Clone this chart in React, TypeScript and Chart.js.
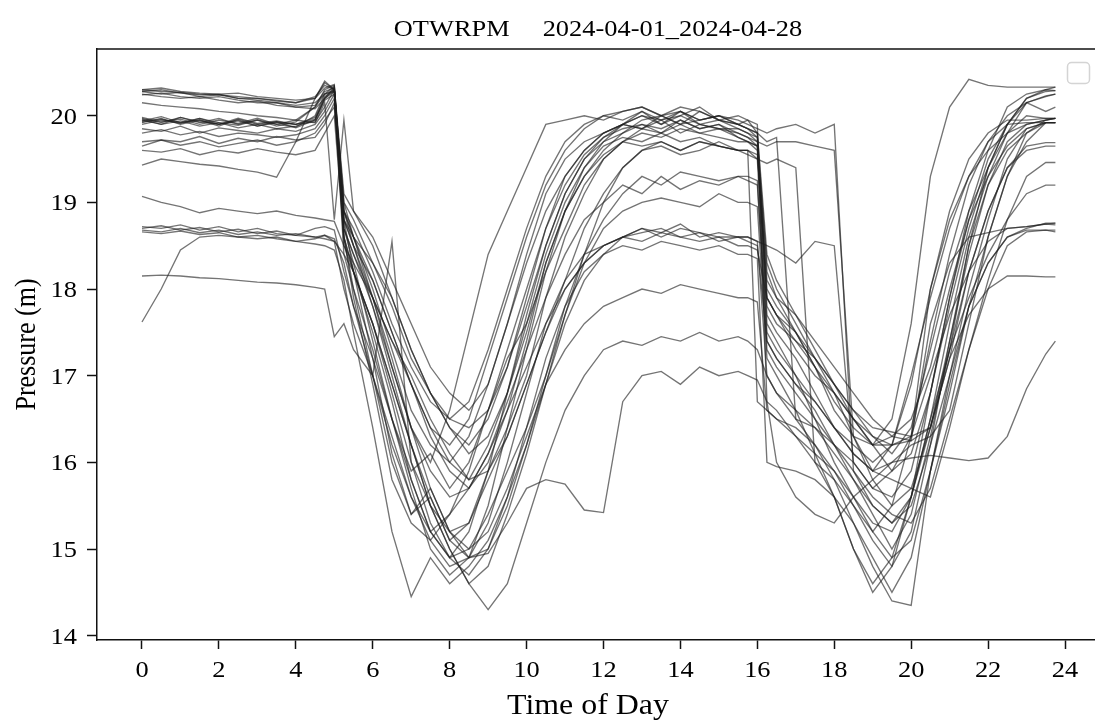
import React, { useEffect, useRef } from "react";
import { Chart, registerables } from "chart.js";
Chart.register(...registerables);

const chartTitle = "OTWRPM     2024-04-01_2024-04-28";
const xLabel = "Time of Day";
const yLabel = "Pressure (m)";
const xTicks = [0, 2, 4, 6, 8, 10, 12, 14, 16, 18, 20, 22, 24];
const yTicks = [14, 15, 16, 17, 18, 19, 20];

const times = [
  0, 0.5, 1, 1.5, 2, 2.5, 3, 3.5, 4, 4.5,
  4.75, 5, 5.25,
  5.5, 6, 6.5, 7, 7.5, 8, 8.5, 9, 9.5, 10, 10.5, 11, 11.5, 12, 12.5, 13, 13.5, 14, 14.5, 15, 15.5,
  15.75, 16, 16.25,
  16.5, 17, 17.5, 18, 18.5, 19, 19.5, 20, 20.5, 21, 21.5, 22, 22.5, 23, 23.5,
  23.75,
];

const day01 = [20.30,20.28,20.27,20.25,20.24,20.22,20.20,20.18,20.15,20.20,
  20.32,20.36,18.90,
  18.6,18.0,17.3,16.6,16.2,16.0,16.3,16.9,17.6,18.3,18.9,19.3,19.6,19.8,19.9,20.0,19.95,20.05,19.9,19.95,19.85,
  19.8,19.7,18.0,
  17.8,17.5,17.1,16.7,16.4,16.2,16.3,16.25,16.4,17.3,18.5,19.4,19.9,20.2,20.3,
  20.33];
const day02 = [20.28,20.30,20.26,20.24,20.25,20.20,20.18,20.15,20.12,20.15,
  20.25,20.34,18.7,
  18.4,17.9,17.4,17.0,16.5,16.1,15.8,16.2,16.8,17.5,18.3,18.9,19.4,19.7,19.9,20.05,19.9,20.0,20.1,19.95,19.9,
  19.85,19.75,17.9,
  17.7,17.3,17.0,16.8,16.5,16.2,15.9,16.1,16.8,17.9,18.8,19.5,19.9,20.2,20.28,
  20.29];
const day03 = [20.25,20.22,20.20,20.22,20.18,20.15,20.17,20.12,20.10,20.08,
  20.2,20.3,19.0,
  18.8,18.3,17.8,17.2,16.8,16.5,16.4,16.6,17.1,17.8,18.5,19.1,19.5,19.75,19.9,19.85,20.0,19.9,19.95,20.0,19.9,
  19.95,19.8,19.7,
  19.75,16.5,16.4,16.2,16.0,15.7,15.6,15.9,16.8,17.8,18.7,19.4,19.9,20.15,20.23,
  20.25];
const day04 = [20.30,20.32,20.28,20.26,20.25,20.26,20.22,20.20,20.18,20.20,
  20.38,20.30,18.8,
  18.5,18.1,17.5,16.9,16.4,16.2,16.5,17.2,17.9,18.6,19.2,19.6,19.85,20.0,20.05,20.1,20.0,20.05,19.95,20.0,19.9,
  19.85,19.8,18.2,
  17.9,17.5,17.1,16.6,16.3,16.2,16.5,17.6,19.3,20.1,20.42,20.35,20.33,20.33,20.33,
  20.33];
const day05 = [20.24,20.26,20.22,20.20,20.22,20.18,20.15,20.15,20.10,20.12,
  20.28,20.32,18.6,
  17.9,16.9,15.8,15.3,15.1,15.4,15.9,16.6,17.3,18.0,18.7,19.2,19.55,19.75,19.85,19.9,19.8,19.95,19.85,19.9,19.8,
  19.75,19.65,17.6,
  17.4,17.0,16.5,16.0,15.6,15.2,15.5,16.3,17.4,18.4,19.2,19.7,20.0,20.15,20.22,
  20.25];
const day06 = [20.15,20.12,20.10,20.08,20.05,20.03,20.00,19.98,19.95,20.10,
  20.25,20.30,18.9,
  18.7,18.2,17.6,17.1,16.7,16.5,16.7,17.3,18.0,18.7,19.3,19.7,19.9,20.0,19.95,20.05,19.95,20.0,19.9,19.85,19.85,
  19.8,19.75,17.8,
  17.6,17.4,17.2,16.9,16.6,16.3,16.1,16.4,17.3,18.2,18.9,19.4,19.8,20.15,20.05,
  20.1];
const day07 = [19.95,19.90,19.98,19.92,19.97,19.90,19.95,19.88,19.93,20.10,
  20.30,20.35,18.8,
  18.2,17.2,16.1,15.4,15.7,15.2,15.3,15.9,16.4,17.0,17.9,18.6,19.1,19.5,19.7,19.8,19.75,19.85,19.8,19.75,19.7,
  19.7,19.6,17.7,
  17.5,17.2,16.8,16.4,16.1,15.9,16.0,16.2,16.3,16.6,17.6,18.6,19.3,19.8,19.95,
  19.97];
const day08 = [19.92,19.97,19.90,19.95,19.88,19.96,19.90,19.93,19.86,19.95,
  20.20,20.33,19.1,
  18.9,18.5,17.9,17.3,16.8,16.4,16.1,16.3,16.8,17.6,18.4,19.0,19.4,19.65,19.75,19.7,19.8,19.7,19.75,19.65,19.6,
  19.6,19.55,18.1,
  17.9,17.7,17.4,17.1,16.8,16.5,16.3,16.5,17.1,18.0,18.8,19.3,19.65,19.85,19.92,
  19.92];
const day09 = [19.97,19.92,19.98,19.93,19.90,19.95,19.88,19.92,19.90,19.98,
  20.22,20.30,18.7,
  18.4,17.8,17.1,16.4,15.9,15.6,15.7,16.1,16.7,17.3,17.9,18.4,18.8,19.0,19.2,19.1,19.3,19.15,19.25,19.2,19.3,
  19.25,19.2,17.5,
  17.3,17.0,16.7,16.4,16.2,16.0,16.2,16.3,18.0,18.8,19.3,19.6,19.8,19.9,19.95,
  19.97];
const day10 = [19.93,19.96,19.91,19.97,19.92,19.89,19.95,19.90,19.87,20.00,
  20.25,20.28,18.5,
  18.2,17.5,16.7,15.8,15.2,14.9,15.2,15.9,16.8,17.7,18.5,19.1,19.5,19.7,19.8,19.9,19.85,19.95,19.85,19.9,19.75,
  19.7,19.65,18.3,
  18.0,17.6,17.2,16.8,16.3,15.9,16.2,17.0,17.9,18.7,19.3,19.7,19.9,19.92,19.92,
  19.92];
const day11 = [19.98,19.93,19.96,19.90,19.95,19.91,19.97,19.90,19.95,19.92,
  20.15,18.8,19.95,
  18.9,18.6,18.1,17.6,17.1,16.8,16.6,16.9,17.6,18.4,19.1,19.5,19.7,19.8,19.9,20.0,19.9,20.05,19.95,20.0,19.95,
  19.9,19.85,19.8,
  19.85,19.9,19.8,19.9,15.9,15.5,15.3,15.6,16.5,17.6,18.6,19.3,19.8,20.0,19.97,
  19.97];
const day12 = [19.94,19.99,19.92,19.95,19.90,19.97,19.91,19.94,19.90,19.93,
  20.10,20.30,18.6,
  18.0,17.0,16.0,15.4,15.6,15.1,15.3,15.8,16.3,16.9,17.5,18.1,18.7,19.1,19.4,19.6,19.7,19.6,19.7,19.65,19.6,
  19.6,19.5,17.4,
  17.2,16.9,16.6,16.2,15.8,15.4,15.0,15.4,16.3,17.3,18.2,18.9,19.4,19.65,19.69,
  19.69];
const day13 = [19.85,19.82,19.88,19.80,19.86,19.83,19.80,19.85,19.82,19.90,
  20.05,20.25,18.4,
  18.0,17.3,16.5,15.7,15.0,14.7,14.9,15.5,16.4,17.3,18.2,18.9,19.3,19.6,19.8,19.95,20.0,19.9,20.05,19.95,19.9,
  19.85,19.8,18.4,
  18.1,17.7,17.3,16.9,16.5,16.2,16.2,16.9,18.0,18.9,19.5,19.8,19.95,19.95,19.97,
  19.97];
const day14 = [19.80,19.84,19.78,19.82,19.76,19.80,19.78,19.75,19.78,19.85,
  20.00,20.20,18.9,
  18.6,18.1,17.5,16.9,16.3,15.9,15.7,16.0,16.6,17.4,18.3,18.9,19.3,19.55,19.7,19.65,19.7,19.6,19.7,19.65,19.6,
  19.6,16.7,16.6,
  16.5,16.4,16.2,15.9,15.5,15.1,14.8,15.2,16.2,17.4,18.5,19.2,19.6,19.8,19.92,
  19.92];
const day15 = [19.70,19.72,19.66,19.70,19.64,19.68,19.72,19.66,19.70,19.80,
  19.95,20.10,18.8,
  18.5,17.9,17.2,16.4,15.7,15.2,14.9,15.0,15.5,16.2,17.0,17.8,18.4,18.8,19.1,19.3,19.2,19.35,19.3,19.25,19.3,
  19.3,19.25,17.3,
  17.1,16.8,16.5,16.2,15.9,15.6,15.4,15.3,15.7,16.5,17.3,18.1,18.8,19.3,19.46,
  19.46];
const day16 = [19.65,19.72,19.70,19.76,19.68,19.74,19.70,19.76,19.72,19.75,
  19.90,20.15,18.7,
  18.3,17.4,16.5,15.9,16.1,15.7,16.0,16.6,17.2,17.6,18.2,18.7,19.2,19.5,19.7,19.85,19.8,19.9,19.8,19.85,19.75,
  19.7,19.65,17.9,
  17.7,17.5,17.2,16.9,16.6,16.4,16.35,16.3,16.4,17.2,18.2,18.9,19.4,19.6,19.65,
  19.65];
const day17 = [19.60,19.58,19.62,19.55,19.60,19.57,19.62,19.58,19.55,19.60,
  19.80,20.00,18.6,
  18.2,17.6,16.9,16.2,15.5,15.0,14.6,14.8,15.4,16.1,16.9,17.7,18.3,18.7,18.9,19.0,19.05,19.0,18.95,19.1,19.0,
  19.0,18.95,17.2,
  17.0,16.6,16.1,15.6,15.0,14.6,14.9,15.6,16.5,17.3,17.9,18.4,18.8,19.1,19.2,
  19.2];
const day18 = [19.43,19.50,19.47,19.44,19.42,19.38,19.35,19.29,19.70,20.20,
  20.40,20.30,18.8,
  18.6,18.3,17.9,17.3,16.8,16.4,16.2,16.5,17.1,17.9,18.7,19.3,19.6,19.8,19.9,19.85,19.95,19.8,19.9,19.85,19.8,
  19.75,19.7,19.65,
  19.7,19.7,19.65,19.6,16.3,15.8,15.5,15.7,16.4,17.4,18.4,19.2,19.7,19.9,19.95,
  19.97];
const day19 = [19.07,19.00,18.95,18.88,18.93,18.90,18.87,18.90,18.85,18.82,
  18.80,18.78,18.5,
  18.3,17.9,17.4,16.9,16.4,16.0,15.8,15.9,16.3,16.9,17.5,18.0,18.3,18.5,18.6,18.65,18.7,18.6,18.65,18.55,18.6,
  18.6,18.55,17.0,
  16.8,16.6,16.4,16.1,15.8,15.5,15.3,15.5,16.2,17.0,17.8,18.3,18.6,18.7,18.76,
  18.76];
const day20 = [18.72,18.70,18.74,18.68,18.72,18.66,18.70,18.64,18.62,18.60,
  18.62,18.58,18.3,
  17.8,17.0,16.2,15.6,15.2,15.4,15.7,16.1,16.6,17.1,17.6,18.0,18.3,18.5,18.6,18.7,18.65,18.75,18.6,18.65,18.6,
  18.6,18.55,18.5,
  18.45,18.3,18.55,18.5,16.0,15.7,15.9,16.3,17.0,17.7,18.2,18.55,18.7,18.72,18.75,
  18.76];
const day21 = [18.70,18.73,18.68,18.71,18.66,18.69,18.64,18.67,18.62,18.70,
  18.72,18.68,18.2,
  17.8,17.2,16.5,15.8,15.2,14.9,14.7,15.0,15.6,16.4,17.2,17.8,18.2,18.4,18.5,18.45,18.55,18.5,18.45,18.5,18.4,
  18.4,18.35,16.0,
  15.95,15.9,15.8,15.6,15.3,14.9,14.5,14.9,15.9,16.9,17.8,18.3,18.6,18.68,18.68,
  18.68];
const day22 = [18.66,18.64,18.67,18.63,18.65,18.60,18.62,18.58,18.55,18.52,
  18.50,18.45,18.1,
  17.5,16.4,15.2,14.45,14.9,14.6,14.8,15.1,15.6,16.2,16.9,17.6,18.1,18.4,18.6,18.7,18.6,18.7,18.65,18.6,18.6,
  18.55,18.5,17.4,
  17.2,16.9,16.7,16.4,16.1,15.9,15.8,15.7,15.6,16.4,17.3,18.0,18.5,18.66,18.68,
  18.66];
const day23 = [17.62,18.00,18.45,18.60,18.62,18.60,18.58,18.60,18.55,18.58,
  18.62,18.55,18.0,
  17.6,17.0,16.3,15.6,15.1,14.8,14.9,15.3,16.0,16.8,17.6,18.1,18.4,18.5,18.6,18.55,18.65,18.6,18.55,18.6,18.5,
  18.5,18.45,17.9,
  17.7,17.4,17.1,16.8,16.5,16.3,16.2,16.25,17.6,18.3,18.6,18.65,18.7,18.72,18.75,
  18.74];
const day24 = [18.15,18.16,18.15,18.13,18.12,18.10,18.08,18.07,18.05,18.02,
  18.00,17.45,17.6,
  17.3,17.0,18.55,16.0,15.5,15.2,15.0,15.2,15.7,16.3,16.9,17.3,17.6,17.8,17.9,18.0,17.95,18.05,18.0,17.95,17.9,
  17.9,17.85,16.6,
  16.5,16.3,16.1,15.9,15.6,15.3,15.2,15.6,16.4,17.2,17.7,18.0,18.15,18.15,18.14,
  18.14];
const day25 = [18.68,18.66,18.70,18.65,18.68,18.63,18.66,18.62,18.64,18.60,
  18.58,18.55,18.4,
  18.2,17.6,16.9,16.2,15.6,15.1,14.9,14.95,15.3,15.7,15.8,15.75,15.45,15.42,16.7,17.0,17.05,16.9,17.1,17.0,17.05,
  17.0,16.95,16.7,
  16.0,15.6,15.4,15.3,15.6,15.8,16.0,16.05,16.08,16.05,16.02,16.05,16.3,16.85,17.25,
  17.4];
const day26 = [19.96,19.90,19.94,19.88,19.92,19.86,19.90,19.85,19.88,19.95,
  20.20,20.28,18.9,
  18.5,17.8,17.0,16.2,15.5,15.0,14.6,14.3,14.6,15.3,16.0,16.6,17.0,17.3,17.4,17.35,17.45,17.4,17.5,17.4,17.45,
  17.4,17.3,17.0,
  16.8,16.5,16.2,15.8,15.3,14.8,14.4,14.35,15.9,17.0,18.0,18.8,19.5,19.85,19.92,
  19.92];
const day27 = [20.28,20.25,20.27,20.22,20.24,20.20,20.20,20.17,20.15,20.22,
  20.35,20.30,19.0,
  18.6,17.9,17.1,16.4,16.0,16.6,17.5,18.4,18.9,19.4,19.9,19.95,20.0,19.95,20.05,20.1,20.0,20.1,20.05,19.95,20.0,
  19.95,19.9,16.7,
  16.6,16.3,16.0,15.6,15.0,14.5,14.8,15.6,16.8,17.9,18.9,19.6,20.1,20.25,20.3,
  20.29];
const day28 = [19.90,19.95,19.92,19.97,19.90,19.94,19.88,19.93,19.90,19.96,
  20.18,20.25,18.6,
  18.2,17.6,16.8,16.0,15.3,14.9,15.0,15.4,15.9,16.4,17.0,17.7,18.4,19.0,19.4,19.6,19.65,19.55,19.6,19.7,19.6,
  19.55,19.5,19.45,
  19.5,19.4,16.0,15.8,15.5,15.2,14.9,15.1,15.9,16.8,17.8,18.6,19.3,19.7,19.92,
  19.92];

const days = [day01, day02, day03, day04, day05, day06, day07, day08, day09, day10,
  day11, day12, day13, day14, day15, day16, day17, day18, day19, day20,
  day21, day22, day23, day24, day25, day26, day27, day28];

const SERIF = '"Liberation Serif", "Times New Roman", serif';
const SX = 1.1; // horizontal glyph stretch seen in the reference

function drawText(ctx: CanvasRenderingContext2D, text: string, x: number, y: number, size: number,
  align: CanvasTextAlign, rotate = 0) {
  ctx.save();
  ctx.translate(x, y);
  ctx.scale(SX, 1);
  if (rotate) ctx.rotate(rotate);
  ctx.font = size + "px " + SERIF;
  ctx.fillStyle = "#000";
  ctx.textAlign = align;
  ctx.textBaseline = "alphabetic";
  ctx.fillText(text, 0, 0);
  ctx.restore();
}

const decoPlugin = {
  id: "deco",
  afterDraw(chart: any) {
    const { ctx, chartArea: a, scales } = chart;
    ctx.save();
    ctx.strokeStyle = "#111";
    ctx.lineWidth = 1.5;
    ctx.beginPath();
    ctx.moveTo(a.left, a.top);
    ctx.lineTo(a.right, a.top);
    ctx.stroke();
    // empty legend frame
    ctx.beginPath();
    ctx.roundRect(1067.5, a.top + 13.5, 22, 21, 4);
    ctx.fillStyle = "rgba(255,255,255,0.85)";
    ctx.fill();
    ctx.strokeStyle = "#d4d4d4";
    ctx.lineWidth = 1.5;
    ctx.stroke();
    ctx.restore();
    // tick labels
    const xs = scales.x, ys = scales.y;
    xTicks.forEach((v) => drawText(ctx, String(v), xs.getPixelForValue(v), 677, 24, "center"));
    yTicks.forEach((v) => drawText(ctx, String(v), 77, ys.getPixelForValue(v) + 8, 24, "right"));
    // title and axis labels (axes centre sits at x = 599)
    drawText(ctx, chartTitle, 598, 36, 24, "center");
    drawText(ctx, xLabel, 588, 714, 29, "center");
    drawText(ctx, yLabel, 35, (a.top + a.bottom) / 2, 26, "center", -Math.PI / 2);
  },
};

export default function App() {
  const ref = useRef<HTMLCanvasElement | null>(null);
  useEffect(() => {
    if (!ref.current) return;
    const datasets = days.map((d, i) => ({
      label: "2024-04-" + String(i + 1).padStart(2, "0"),
      data: times.map((t, j) => ({ x: t, y: d[j] })),
      borderColor: "rgba(30,30,30,0.62)",
      borderWidth: 1.35,
      pointRadius: 0,
      tension: 0,
      fill: false,
    }));
    const chart = new Chart(ref.current, {
      type: "line",
      data: { datasets },
      options: {
        animation: false,
        responsive: false,
        devicePixelRatio: 1,
        layout: { padding: { top: 49, left: 0, right: 0, bottom: 0 } },
        plugins: { legend: { display: false }, tooltip: { enabled: false }, title: { display: false } },
        scales: {
          x: {
            type: "linear",
            min: -1.17,
            max: 24.78,
            afterBuildTicks: (s: any) => { s.ticks = xTicks.map((v) => ({ value: v })); },
            afterFit: (s: any) => { s.height = 80; },
            grid: { drawOnChartArea: false, drawTicks: true, tickLength: 9, tickColor: "#111", tickWidth: 1.5 },
            border: { color: "#111", width: 1.5 },
            ticks: { display: false },
            title: { display: false },
          },
          y: {
            type: "linear",
            min: 13.95,
            max: 20.77,
            afterBuildTicks: (s: any) => { s.ticks = yTicks.map((v) => ({ value: v })); },
            afterFit: (s: any) => { s.width = 97; },
            grid: { drawOnChartArea: false, drawTicks: true, tickLength: 10, tickColor: "#111", tickWidth: 1.5 },
            border: { color: "#111", width: 1.5 },
            ticks: { display: false },
            title: { display: false },
          },
        },
      },
      plugins: [decoPlugin],
    } as any);
    return () => chart.destroy();
  }, []);
  return (
    <div style={{ position: "fixed", left: 0, top: 0, width: 1095, height: 720, overflow: "hidden", background: "#fff" }}>
      <canvas ref={ref} width={1095} height={720} style={{ display: "block", width: 1095, height: 720 }} />
    </div>
  );
}
